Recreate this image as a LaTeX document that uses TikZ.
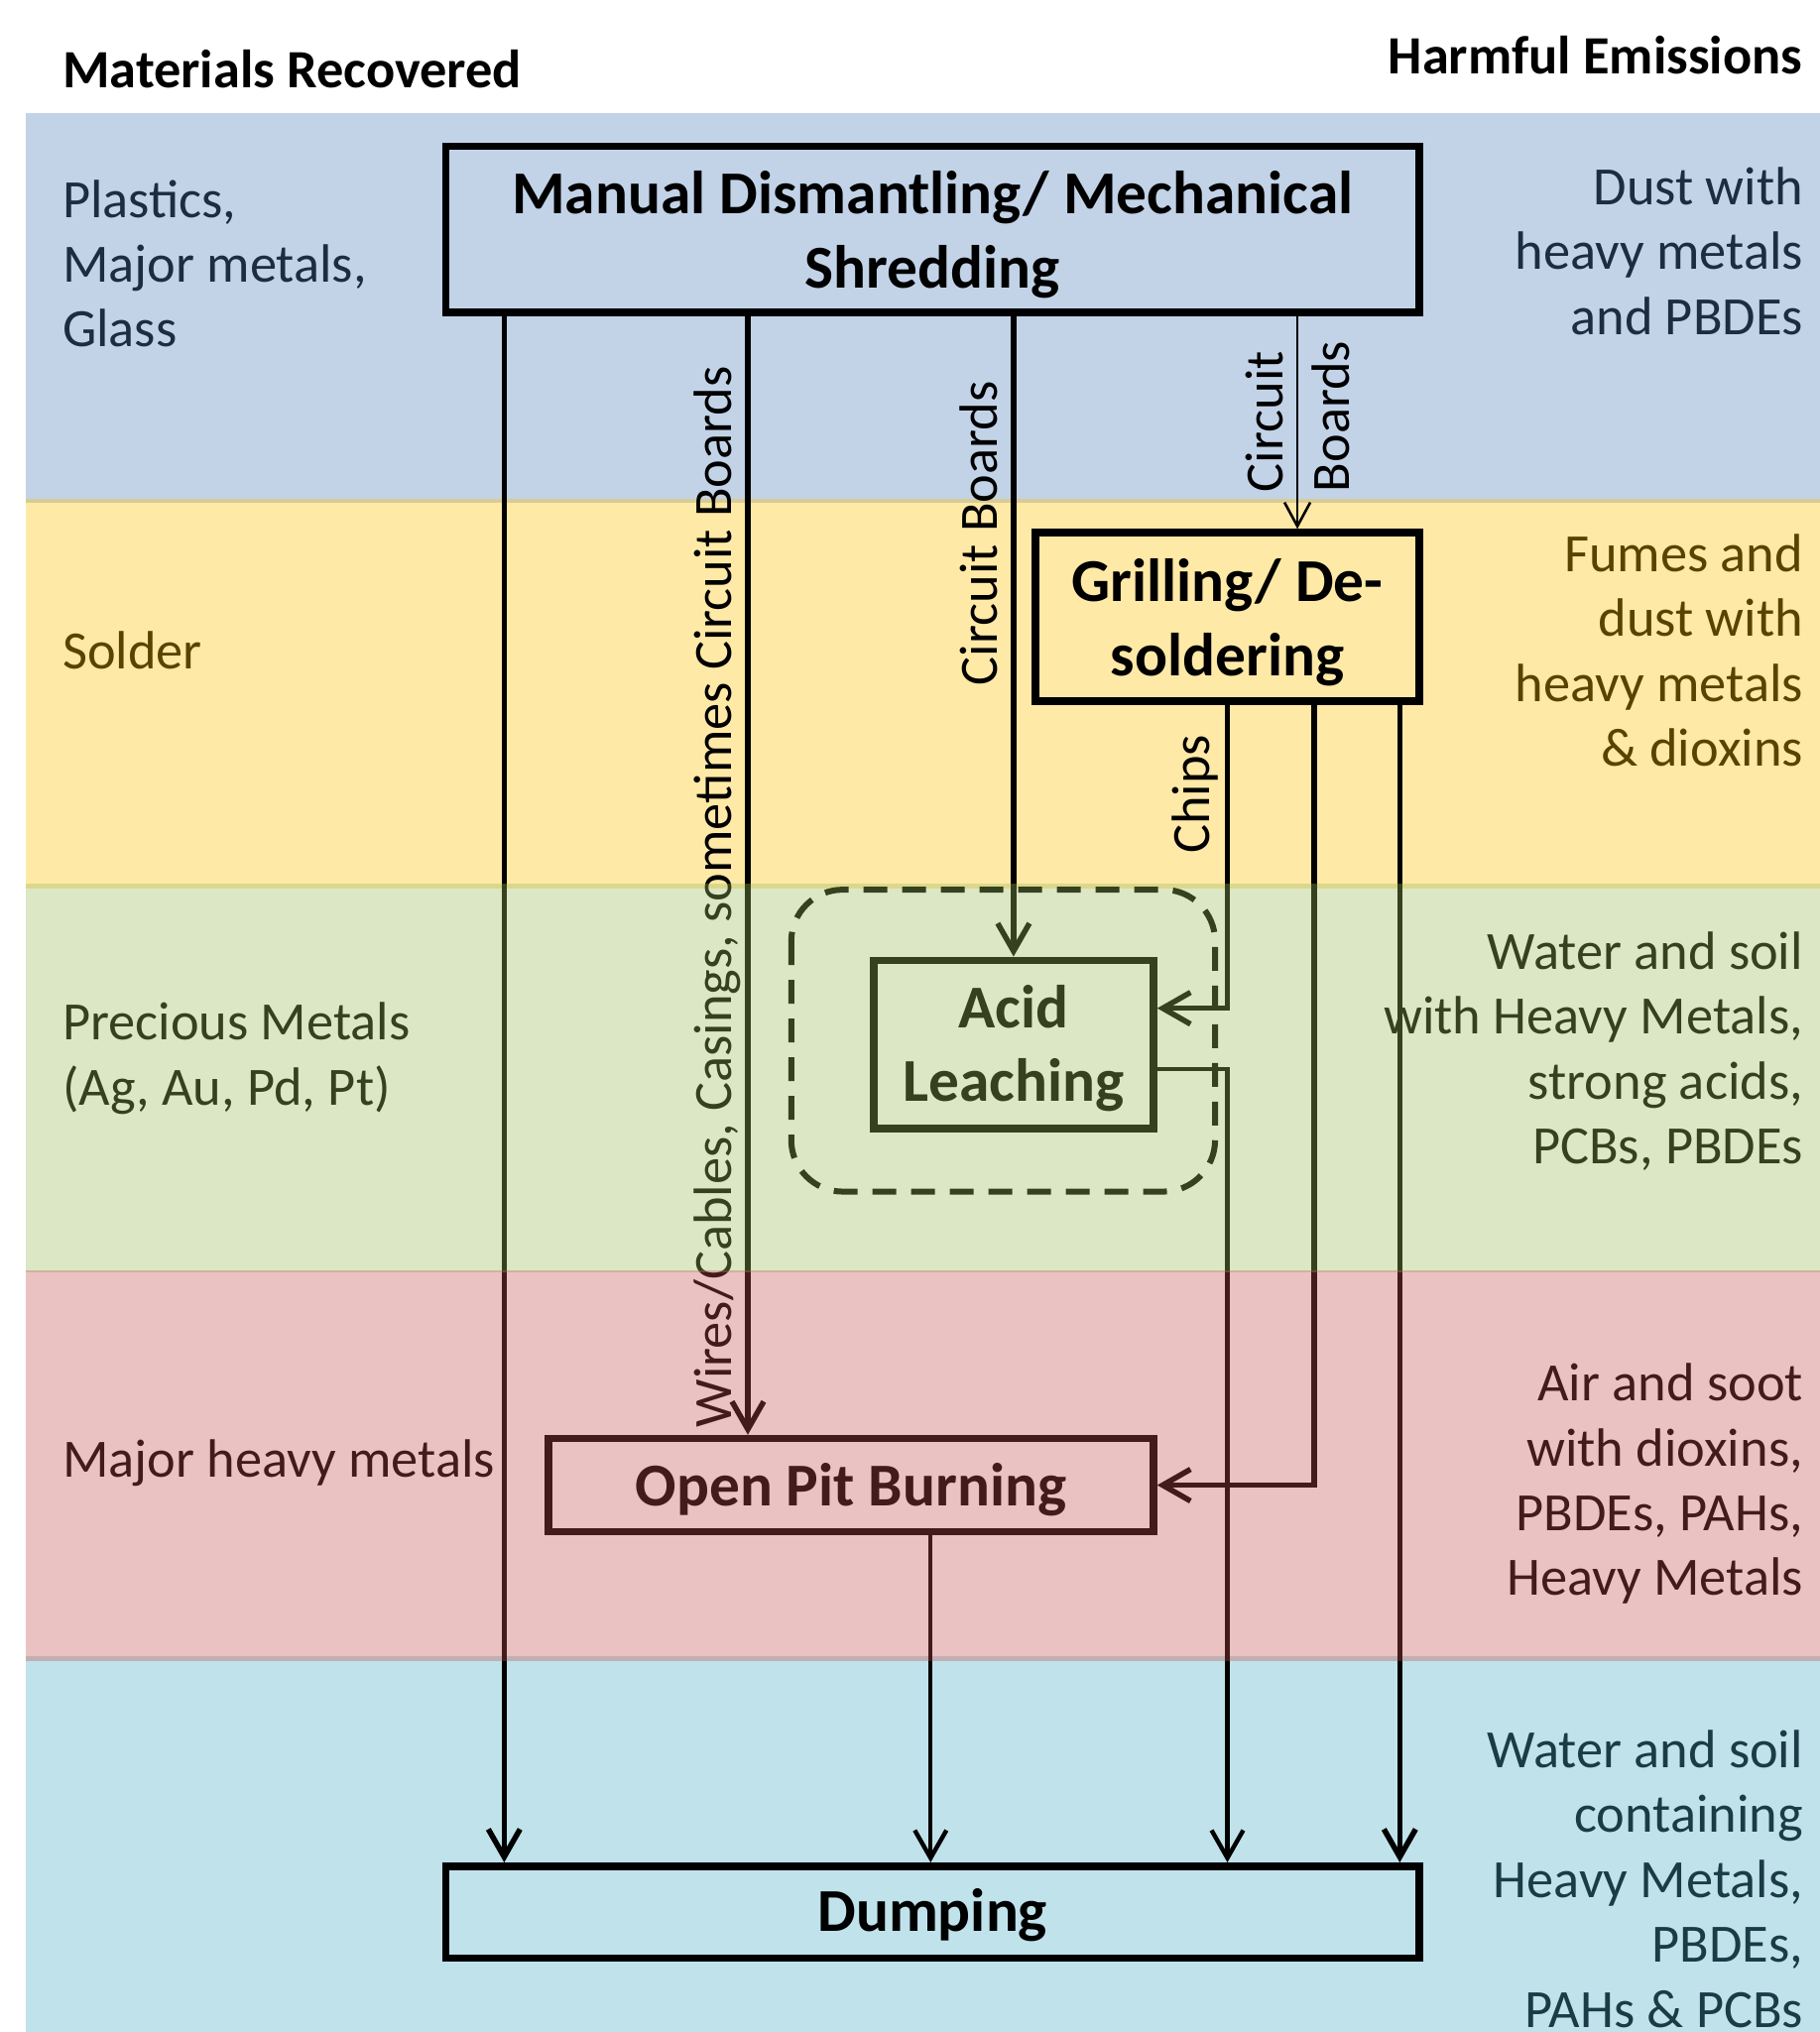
\documentclass[tikz,border=0pt]{standalone}
\usepackage{fontspec}
\setmainfont{Carlito}
\usetikzlibrary{arrows.meta}
\definecolor{bandblue}{HTML}{4F81BD}
\definecolor{bandyellow}{HTML}{FFC000}
\definecolor{bandgreen}{HTML}{9BBB59}
\definecolor{bandred}{HTML}{C0504D}
\definecolor{bandcyan}{HTML}{4BACC6}
\newcommand\dpx{0.65349pt}
\newcommand\ltab[1]{\begin{tabular}[t]{@{}l@{}}#1\end{tabular}}
\newcommand\rtab[1]{\begin{tabular}[t]{@{}r@{}}#1\end{tabular}}
\newcommand\ctab[1]{\begin{tabular}[t]{@{}c@{}}#1\end{tabular}}
\tikzset{
  band/.style={fill opacity=0.35, draw=none},
  sidetext/.style={inner sep=0pt, font=\fontsize{27.2pt}{32.7pt}\selectfont},
  header/.style={inner sep=0pt, font=\fontsize{27.2pt}{32.7pt}\selectfont\bfseries},
  proc/.style={draw, line width=3.75pt, inner sep=0pt, text height=26.14pt,
    font=\fontsize{30.7pt}{37.2pt}\selectfont\bfseries},
  flow/.style={line width=2.75pt, -{Straight Barb[length=14pt,width=16pt]}},
  flowmed/.style={line width=2.2pt, -{Straight Barb[length=14pt,width=16pt]}},
  flowthin/.style={line width=1.3pt, -{Straight Barb[length=12pt,width=13pt]}},
  flowlabel/.style={inner sep=0pt, rotate=90, font=\fontsize{27.2pt}{32.7pt}\selectfont},
  grp/.style={line width=3pt, dash pattern=on 12pt off 7.5pt, rounded corners=26pt}
}
\begin{document}
\begin{tikzpicture}[x=\dpx, y=-\dpx]
\useasboundingbox (0,0) rectangle (1404,1568);
% headers
\node[header, anchor=base west] (hleft) at (48,68) {Materials Recovered};
\node[header, anchor=base east] (hright) at (1391,57) {Harmful Emissions};
% left column
\node[sidetext, anchor=base west] (mat1) at (48,167.6) {\ltab{Plastics,\\Major metals,\\Glass}};
\node[sidetext, anchor=base west] (mat2) at (48,516) {\ltab{Solder}};
\node[sidetext, anchor=base west] (mat3) at (48,802.5) {\ltab{Precious Metals\\(Ag, Au, Pd, Pt)}};
\node[sidetext, anchor=base west] (mat4) at (48,1139.5) {\ltab{Major heavy metals}};
% right column
\node[sidetext, anchor=base east] (em1) at (1391.5,158) {\rtab{Dust with\\heavy metals\\and PBDEs}};
\node[sidetext, anchor=base east] (em2) at (1391.5,441) {\rtab{Fumes and\\dust with\\heavy metals\\\& dioxins}};
\node[sidetext, anchor=base east] (em3) at (1391.5,748) {\rtab{Water and soil\\with Heavy Metals,\\strong acids,\\PCBs, PBDEs}};
\node[sidetext, anchor=base east] (em4) at (1391.5,1081) {\rtab{Air and soot\\with dioxins,\\PBDEs, PAHs,\\Heavy Metals}};
\node[sidetext, anchor=base east] (em5) at (1391.5,1364) {\rtab{Water and soil\\containing\\Heavy Metals,\\PBDEs,\\PAHs \& PCBs}};
% bands under the diagram
\fill[band, bandblue] (20,87) rectangle (1404,388);
\fill[band, bandyellow] (20,385) rectangle (1404,685.5);
\fill[band, bandcyan] (20,1278) rectangle (1404,1568);
% process boxes
\node[proc, text depth=41.6pt, minimum width=751*\dpx, minimum height=128*\dpx] (manual) at (719.5,177) {\ctab{Manual Dismantling/ Mechanical\\Shredding}};
\node[proc, text depth=41.30pt, minimum width=296*\dpx, minimum height=130*\dpx] (grill) at (947,476) {\ctab{Grilling/ De-\\soldering}};
\node[proc, text depth=43.4pt, minimum width=216*\dpx, minimum height=130*\dpx] (acid) at (782,806) {\ctab{Acid\\Leaching}};
\node[proc, text depth=5.4pt, minimum width=467*\dpx, minimum height=72*\dpx] (pit) at (656.5,1146) {\ctab{Open Pit Burning}};
\node[proc, text depth=6.67pt, minimum width=751*\dpx, minimum height=71*\dpx] (dump) at (719.5,1475.5) {\ctab{Dumping}};
\draw[grp] (610.5,686.5) rectangle (937.5,919.5);
% helper coordinates
\coordinate (xA) at (389,0);
\coordinate (xB) at (577,0);
\coordinate (xD) at (1001,0);
\coordinate (xE) at (1014,0);
\coordinate (xF) at (1080,0);
\coordinate (xG) at (718,0);
\coordinate (yC) at (0,778);
\coordinate (yL) at (0,825);
% connectors
\draw[flow] (xA |- manual.south) -- (xA |- dump.north);
\draw[flow] (xB |- manual.south) -- (xB |- pit.north);
\draw[flow] (acid.north |- manual.south) -- (acid.north);
\draw[flowthin] (xD |- manual.south) -- (xD |- grill.north);
\draw[flow] (grill.south) |- (acid.east |- yC);
\draw[flow] (xE |- grill.south) |- (pit.east);
\draw[flow] (xF |- grill.south) -- (xF |- dump.north);
\draw[flowmed] (acid.east |- yL) -| (grill.south |- dump.north);
\draw[flowmed] (xG |- pit.south) -- (xG |- dump.north);
% connector labels
\node[flowlabel, anchor=base] (lwires) at (564.5,692) {Wires/Cables, Casings, sometimes Circuit Boards};
\node[flowlabel, anchor=base] (lcb) at (769.5,411.5) {Circuit Boards};
\node[flowlabel, anchor=base west] (lcirc) at (990,380) {Circuit};
\node[flowlabel, anchor=base west] (lboards) at (1041,380) {Boards};
\node[flowlabel, anchor=base] (lchips) at (933,613) {Chips};
% bands over the diagram
\fill[band, bandgreen] (20,682) rectangle (1404,982);
\fill[band, bandred] (20,980) rectangle (1404,1281.5);
\end{tikzpicture}
\end{document}
